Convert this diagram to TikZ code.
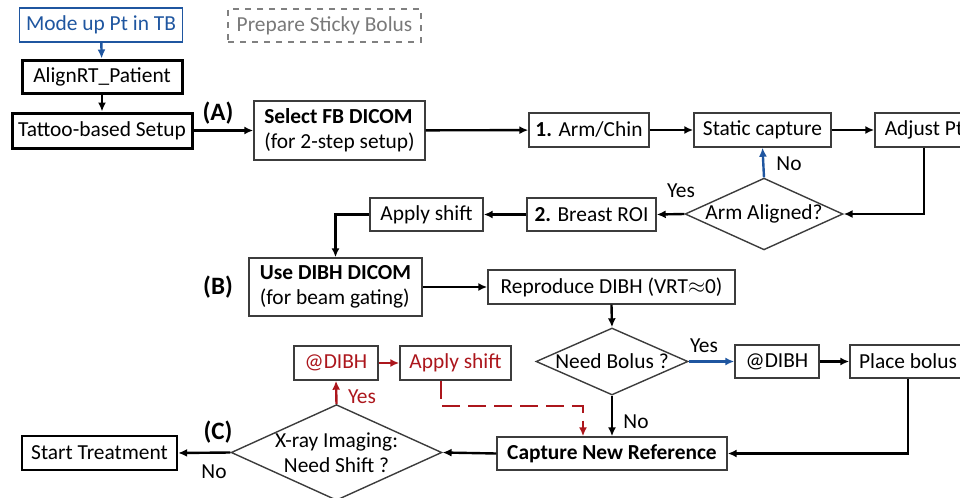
\documentclass[tikz,border=0pt]{standalone}
\usepackage{fontspec}
\setmainfont{Carlito}
\usetikzlibrary{shapes.geometric,arrows.meta}

\definecolor{tbblue}{RGB}{31,86,160}
\definecolor{dibhred}{RGB}{172,22,28}
\definecolor{boxgray}{RGB}{60,60,60}

\begin{document}
\begin{tikzpicture}[x=0.5pt, y=-0.5pt,
  main/.style = {draw=boxgray, line width=0.7pt, fill=white, inner sep=1pt, minimum height=17pt, font=\fontsize{10.7}{12.5}\selectfont},
  heavy/.style = {main, draw=black, line width=1.5pt},
  decision/.style = {main, diamond, aspect=2.2, inner sep=0pt},
  flow/.style = {line width=1.2pt, -{Latex[length=4.5pt,width=4pt]}},
  tag/.style = {font=\bfseries\fontsize{12.5}{14}\selectfont},
  lbl/.style = {font=\fontsize{10.7}{12.5}\selectfont}]

\clip (0, 0) rectangle (960, 498);

\node[main, draw=tbblue, text=tbblue, minimum width=81.5pt] (M) at (101, 25) {Mode up Pt in TB};
\node[main, dashed, draw=gray, text=gray!95!black, minimum width=96.5pt, minimum height=16.5pt] (P) at (324.5, 25.5) {Prepare Sticky Bolus};
\node[heavy, minimum width=80pt, minimum height=16.5pt] (A1) at (102, 76.5) {AlignRT\_Patient};
\node[heavy, minimum width=90pt, minimum height=17.5pt] (A2) at (102, 130.5) {Tattoo-based Setup};

\node[main, minimum width=85.5pt, minimum height=29.5pt, align=left] (F) at (339.5, 130.5) {\textbf{Select FB DICOM}\\(for 2-step setup)};
\node[main, minimum width=60pt] (S1) at (589, 130) {\textbf{1.} Arm/Chin};
\node[main, minimum width=68.5pt] (S2) at (762.5, 130) {Static capture};
\node[main, minimum width=49pt] (S3) at (924, 130) {Adjust Pt};

\node[decision, minimum width=76.5pt, minimum height=34pt] (D1) at (764, 214) {Arm Aligned?};
\node[main, minimum width=64.5pt, minimum height=16.5pt] (S4) at (591.5, 214.5) {\textbf{2.} Breast ROI};
\node[main, minimum width=56.5pt, minimum height=16.5pt] (S5) at (426.5, 214.5) {Apply shift};

\node[main, minimum width=86.5pt, minimum height=29pt, align=left] (G) at (335.5, 287) {\textbf{Use DIBH DICOM}\\(for beam gating)};
\node[main, minimum width=123.5pt] (B1) at (611.5, 287) {Reproduce DIBH (VRT$\approx$0)};
\node[decision, minimum width=76pt, minimum height=33.5pt] (D2) at (612, 361.5) {Need Bolus ?};
\node[main, minimum width=42pt, minimum height=16.5pt] (B2) at (777, 361.5) {@DIBH};
\node[main, minimum width=58pt, minimum height=16.5pt] (B3) at (908, 361.5) {Place bolus};
\node[main, minimum width=115pt, minimum height=16.5pt, font=\bfseries\fontsize{10.7}{12.5}\selectfont] (C) at (612, 453.5) {Capture New Reference};

\node[decision, minimum width=98.5pt, minimum height=44.5pt, align=center] (D3) at (336.5, 452.5) {X-ray Imaging:\\Need Shift ?};
\node[heavy, line width=1.2pt, minimum width=77.5pt] (T) at (99.5, 453) {Start Treatment};
\node[main, text=dibhred, minimum width=42pt] (R1) at (336, 363) {@DIBH};
\node[main, text=dibhred, minimum width=55.5pt] (R2) at (455.5, 363) {Apply shift};

\node[tag] (LA) at (218, 113) {(A)};
\node[tag] (LB) at (218, 287) {(B)};
\node[tag] (LC) at (218, 432) {(C)};

\node[lbl] (N1) at (789, 164) {No};
\node[lbl] (Y1) at (681, 191) {Yes};
\node[lbl] (Y2) at (704, 346) {Yes};
\node[lbl] (N2) at (636, 422) {No};
\node[lbl, text=dibhred] (Y3) at (362, 397) {Yes};
\node[lbl] (N3) at (214, 472) {No};

\draw[flow, tbblue] (M) -- (A1);
\draw[flow] (A1) -- (A2);
\draw[flow] (A2) -- (F);
\draw[flow] (F) -- (S1);
\draw[flow] (S1) -- (S2);
\draw[flow] (S2) -- (S3);
\draw[flow] (S3.south) |- (D1.east);
\draw[flow, tbblue] (D1.north) -- (S2.south);
\draw[flow] (D1.west) -- (S4.east);
\draw[flow] (S4) -- (S5);
\draw[flow] (S5.west) -| (G.north);

\draw[flow] (G.east) -- (B1.west);
\draw[flow] (B1.south) -- (D2.north);
\draw[flow, tbblue] (D2.east) -- (B2.west);
\draw[flow] (B2) -- (B3);
\draw[flow] (B3.south) |- (C.east);
\draw[flow] (D2.south) -- (C.north);

\draw[flow] (C.west) -- (D3.east);
\draw[flow] (D3.west) -- (T.east);
\draw[flow, dibhred] (D3.north) -- (R1.south);
\draw[flow, dibhred] (R1) -- (R2);
\draw[flow, dibhred, dash pattern=on 9pt off 4pt] ([xshift=-7.25pt]R2.south) -- ++(0, 25) -| ([xshift=-14.5pt]C.north);
\end{tikzpicture}
\end{document}
